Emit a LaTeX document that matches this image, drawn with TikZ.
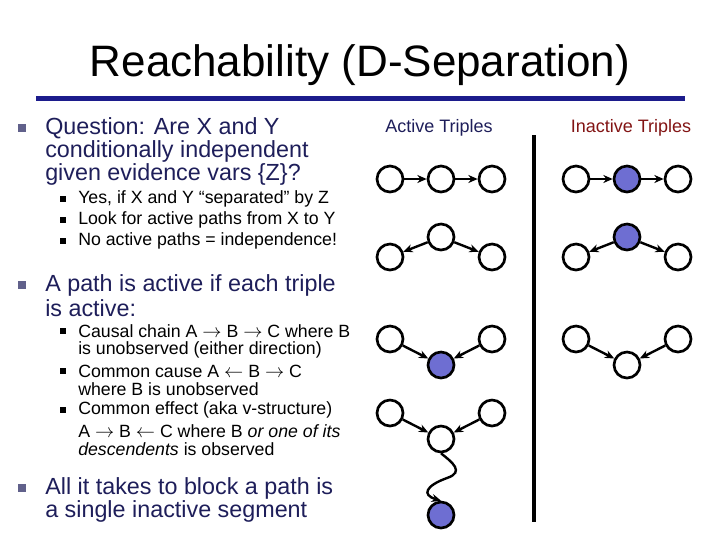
\documentclass[tikz,border=0pt]{standalone}
\usepackage{fontspec}
\setmainfont{Liberation Sans}
\usetikzlibrary{arrows.meta}
\definecolor{navy}{RGB}{30,30,90}
\definecolor{rulec}{RGB}{28,28,140}
\definecolor{obs}{RGB}{110,110,210}
\definecolor{darkred}{RGB}{130,20,20}
\tikzset{
  var/.style={circle,draw,line width=2pt,minimum size=19.5pt,inner sep=0pt},
  seen/.style={var,fill=obs},
  dep/.style={-{Stealth[length=7pt,width=6pt]},line width=1.8pt},
  main/.style={anchor=west,inner sep=0pt,text=navy,font=\fontsize{17.5}{19}\selectfont},
  sub/.style={anchor=west,inner sep=0pt,font=\fontsize{13.3}{15}\selectfont},
  mbul/.style={fill=navy!70,minimum size=5.5pt,inner sep=0pt},
  sbul/.style={fill=black,minimum size=4pt,inner sep=0pt}
}
\begin{document}
\begin{tikzpicture}[x=0.75pt,y=-0.75pt]
 \useasboundingbox (0,0) rectangle (720,540);
 \node (title) at (360,65) {\fontsize{33}{36}\selectfont Reachability (D-Separation)};
 \fill[rulec] (36,96) rectangle (685,101);

 % left column
 \node[mbul] (b1) at (22,128) {};
 \node[main] (q1) at (45,128) {Question: Are X and Y};
 \node[main] (q2) at (45,151) {conditionally independent};
 \node[main] (q3) at (45,174) {given evidence vars \{Z\}?};
 \node[sbul] (s1) at (63,199) {};
 \node[sub] (t1) at (78,199) {Yes, if X and Y “separated” by Z};
 \node[sbul] (s2) at (63,220) {};
 \node[sub] (t2) at (78,220) {Look for active paths from X to Y};
 \node[sbul] (s3) at (63,241) {};
 \node[sub] (t3) at (78,241) {No active paths = independence!};

 \node[mbul] (b2) at (22,285) {};
 \node[main] (p1) at (45,285) {A path is active if each triple};
 \node[main] (p2) at (45,308) {is active:};
 \node[sbul] (s4) at (63,331) {};
 \node[sub] (u1) at (78,331) {Causal chain A $\rightarrow$ B $\rightarrow$ C where B};
 \node[sub] (u2) at (78,350) {is unobserved (either direction)};
 \node[sbul] (s5) at (63,371) {};
 \node[sub] (u3) at (78,371) {Common cause A $\leftarrow$ B $\rightarrow$ C};
 \node[sub] (u4) at (78,389) {where B is unobserved};
 \node[sbul] (s6) at (63,410) {};
 \node[sub] (u5) at (78,410) {Common effect (aka v-structure)};
 \node[sub] (u6) at (78,431) {A $\rightarrow$ B $\leftarrow$ C where B \textit{or one of its}};
 \node[sub] (u7) at (78,449) {\textit{descendents} is observed};

 \node[mbul] (b3) at (22,488) {};
 \node[main] (r1) at (45,488) {All it takes to block a path is};
 \node[main] (r2) at (45,511) {a single inactive segment};

 % headers
 \node[text=navy,font=\fontsize{13.5}{15}\selectfont] (act) at (439,128) {Active Triples};
 \node[text=darkred,font=\fontsize{13.5}{15}\selectfont] (inact) at (631,128) {Inactive Triples};
 \draw[line width=3.5pt] (534,135) -- (534,522);

 % active triples
 \node[var] (a1) at (390,179) {};
 \node[var] (b1n) at (441,179) {};
 \node[var] (c1) at (492,179) {};
 \node[var] (a2) at (390,257) {};
 \node[var] (b2n) at (441,237) {};
 \node[var] (c2) at (492,257) {};
 \node[var] (a3) at (390,339) {};
 \node[seen] (b3n) at (441,365) {};
 \node[var] (c3) at (492,339) {};
 \node[var] (a4) at (390,413) {};
 \node[var] (b4n) at (441,439) {};
 \node[var] (c4) at (492,413) {};
 \node[seen] (d4) at (441,515) {};

 \draw[dep] (a1) -- (b1n);
 \draw[dep] (b1n) -- (c1);
 \draw[dep] (b2n) -- (a2);
 \draw[dep] (b2n) -- (c2);
 \draw[dep] (a3) -- (b3n);
 \draw[dep] (c3) -- (b3n);
 \draw[dep] (a4) -- (b4n);
 \draw[dep] (c4) -- (b4n);
 \draw[dep] (b4n.south) .. controls (452,462) and (465,472) .. (447,478)
   .. controls (425,486) and (422,495) .. (d4.north);

 % inactive triples
 \node[var] (ia1) at (576,179) {};
 \node[seen] (ib1) at (627,179) {};
 \node[var] (ic1) at (678,179) {};
 \node[var] (ia2) at (576,257) {};
 \node[seen] (ib2) at (627,237) {};
 \node[var] (ic2) at (678,257) {};
 \node[var] (ia3) at (576,339) {};
 \node[var] (ib3) at (627,365) {};
 \node[var] (ic3) at (678,339) {};

 \draw[dep] (ia1) -- (ib1);
 \draw[dep] (ib1) -- (ic1);
 \draw[dep] (ib2) -- (ia2);
 \draw[dep] (ib2) -- (ic2);
 \draw[dep] (ia3) -- (ib3);
 \draw[dep] (ic3) -- (ib3);
\end{tikzpicture}
\end{document}
